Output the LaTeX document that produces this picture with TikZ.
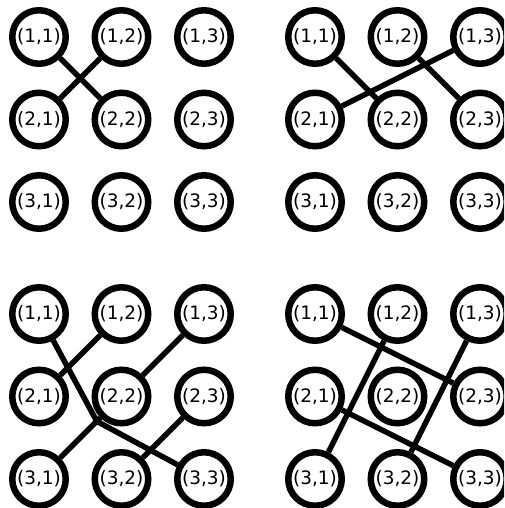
\documentclass[tikz,border=0pt]{standalone}
\usepackage{fontspec}
\setmainfont{DejaVu Sans}
\usetikzlibrary{calc}
\begin{document}
\begin{tikzpicture}[x=1pt,y=-1pt,
  vtx/.style={circle,draw,line width=6.5pt,minimum size=53.5pt,inner sep=0pt,font=\fontsize{18.5}{18.5}\selectfont},
  link/.style={line width=5.5pt}]
\useasboundingbox (0,0) rectangle (504,508);
\clip (0,0) rectangle (504,508);
\foreach \g/\ox/\oy in {a/39/37, b/315/37, c/39/314, d/315/314} {
  \foreach \r in {1,2,3} {
    \foreach \c in {1,2,3} {
      \node[vtx] (\g\r\c) at ({\ox+(\c-1)*82.5},{\oy+(\r-1)*82.5}) {(\r,\c)};
    }
  }
}
% top-left
\draw[link] (a11) -- (a22);
\draw[link] (a12) -- (a21);
% top-right
\draw[link] (b11) -- (b22);
\draw[link] (b12) -- (b23);
\draw[link] (b13) -- (b21);
% bottom-left
\coordinate (cbend) at ($(c31)!0.7!(c22)$);
\draw[link] (c12) -- (c21);
\draw[link] (c13) -- (c22);
\draw[link] (c31) -- (c22);
\draw[link] (c32) -- (c23);
\draw[link,line join=miter] (c11) -- (cbend) -- (c33);
% bottom-right
\draw[link] (d11) -- (d23);
\draw[link] (d21) -- (d33);
\draw[link] (d12) -- (d31);
\draw[link] (d13) -- (d32);
\end{tikzpicture}
\end{document}
